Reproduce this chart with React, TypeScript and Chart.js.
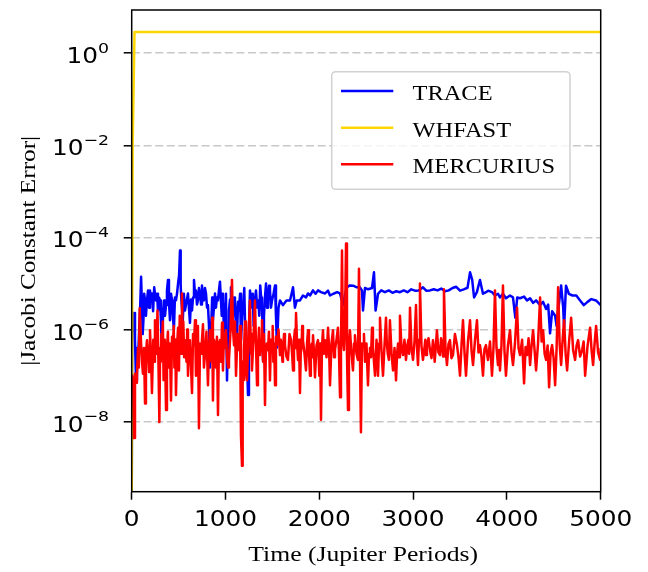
import { useEffect, useRef } from "react";
import { Chart, registerables } from "chart.js";

Chart.register(...registerables);

// ---------------- data ----------------
const traceTime = [
  0, 5, 14, 25, 35, 46, 56, 67, 80, 90, 100, 110, 117, 125, 133, 142, 152, 163, 174, 185,
  195, 205, 216, 228, 240, 250, 260, 270, 280, 291, 302, 312, 323, 334, 345, 355, 366, 376, 387, 397,
  408, 419, 430, 440, 450, 461, 472, 483, 494, 505, 515, 522, 530, 538, 545, 556, 568, 584, 600, 610,
  621, 632, 643, 654, 664, 675, 685, 696, 706, 717, 728, 739, 749, 760, 770, 781, 792, 803, 813, 824,
  834, 842, 850, 858, 866, 877, 888, 898, 909, 920, 930, 941, 950, 960, 966, 973, 984, 994, 1005, 1016,
  1027, 1037, 1048, 1058, 1069, 1080, 1091, 1101, 1112, 1123, 1134, 1144, 1155, 1165, 1178, 1190, 1200, 1210, 1225, 1240,
  1250, 1261, 1271, 1282, 1291, 1300, 1313, 1325, 1337, 1350, 1360, 1370, 1380, 1389, 1395, 1400, 1410, 1421, 1432, 1443,
  1453, 1464, 1474, 1485, 1496, 1512, 1528, 1538, 1549, 1565, 1581, 1613, 1650, 1688, 1720, 1740, 1760, 1794, 1826, 1858,
  1880, 1901, 1933, 1960, 1986, 2018, 2061, 2093, 2114, 2150, 2190, 2221, 2253, 2275, 2295, 2327, 2360, 2400, 2433, 2455,
  2466, 2487, 2520, 2562, 2583, 2600, 2626, 2660, 2700, 2740, 2780, 2820, 2860, 2900, 2940, 2980, 3020, 3060, 3105, 3140,
  3180, 3220, 3260, 3300, 3340, 3380, 3420, 3460, 3500, 3540, 3580, 3607, 3630, 3650, 3680, 3713, 3745, 3777, 3800, 3841,
  3873, 3905, 3926, 3958, 3990, 4033, 4065, 4090, 4110, 4140, 4183, 4215, 4247, 4279, 4311, 4354, 4386, 4418, 4440, 4460,
  4482, 4514, 4530, 4550, 4578, 4600, 4610, 4630, 4660, 4700, 4740, 4780, 4820, 4860, 4900, 4950, 5000,
];
const traceError = [
  1e-10, 1.6e-6, 1.7e-6, 2.3e-6, 6e-7, 7.9e-8, 4e-7, 2e-7, 1e-6, 3e-6, 1.4e-5, 3e-6, 8e-7, 1.6e-6, 6e-6, 4.3e-6, 2e-6, 4.3e-6, 7.1e-6, 3e-6,
  7.1e-6, 4e-6, 6.1e-6, 2.5e-6, 8.3e-6, 5.5e-6, 4.3e-6, 6e-6, 2.6e-6, 5e-6, 4.3e-6, 1.5e-6, 3.2e-7, 2e-6, 4.3e-6, 2e-6, 3.4e-6, 7e-6, 1.2e-5, 4e-6,
  1.6e-6, 6e-6, 4.3e-6, 1.8e-6, 1e-6, 5e-6, 4.3e-6, 6e-6, 1e-5, 1.5e-5, 5.2e-5, 9e-6, 4.3e-6, 2.5e-6, 1.6e-6, 6e-6, 2.6e-6, 4e-6, 6.1e-6, 3e-6,
  1.4e-6, 4.5e-6, 2.6e-6, 5e-6, 1.2e-5, 6e-6, 7.1e-6, 3.5e-6, 4.3e-6, 8e-6, 6.1e-6, 3.5e-6, 9.1e-6, 5e-6, 4.3e-6, 8e-6, 6.1e-6, 3e-6, 3.4e-6, 1.2e-6,
  1.5e-7, 8e-7, 1.6e-6, 5e-6, 1.6e-6, 3e-6, 6.1e-6, 3e-6, 5e-6, 4.3e-6, 7e-6, 1.1e-5, 5e-6, 2e-6, 6e-6, 4.3e-6, 9e-7, 1.6e-6, 6e-6, 7.9e-8,
  9e-7, 2.6e-6, 4.5e-6, 8.3e-6, 3e-6, 1e-6, 5e-6, 4.3e-6, 2e-6, 7.5e-7, 4e-6, 2.6e-6, 6e-6, 5.9e-7, 2e-6, 3.4e-6, 8e-6, 1e-6, 4e-7, 3.8e-8,
  1e-6, 7.1e-6, 5e-6, 3e-6, 6e-6, 1.2e-6, 4e-6, 7.1e-6, 3e-6, 4.3e-6, 2e-6, 9.1e-6, 5e-6, 3e-6, 1e-6, 2.2e-7, 2e-6, 5e-6, 1e-5, 3e-6,
  5e-6, 9e-6, 7.1e-6, 3e-6, 4.3e-6, 6e-6, 9.1e-6, 2e-6, 4.1e-7, 3e-6, 4.3e-6, 3.4e-6, 4.3e-6, 4.3e-6, 8.3e-6, 3e-6, 4.3e-6, 4.3e-6, 5.5e-6, 5e-6,
  6.1e-6, 5.5e-6, 7.1e-6, 6e-6, 7.1e-6, 6.5e-6, 6.1e-6, 7e-6, 5.5e-6, 6e-6, 6.5e-6, 6.1e-6, 3.4e-6, 6e-6, 8.3e-6, 9.1e-6, 9e-6, 8.3e-6, 8.3e-6, 7e-6,
  2.6e-6, 8e-6, 7.5e-6, 8e-6, 1.75e-5, 2.6e-6, 6e-6, 7.1e-6, 6.5e-6, 7.1e-6, 6.3e-6, 6.8e-6, 6.5e-6, 7.1e-6, 6.5e-6, 7.5e-6, 7e-6, 7.1e-6, 8.3e-6, 7e-6,
  7.1e-6, 7.5e-6, 7.1e-6, 7.8e-6, 6.8e-6, 7.1e-6, 8e-6, 8.5e-6, 7e-6, 7.5e-6, 8.1e-6, 1.75e-5, 1.2e-5, 5e-6, 6.5e-6, 1.2e-5, 6e-6, 6.5e-6, 7e-6, 6.5e-6,
  5.5e-6, 6e-6, 5e-6, 6e-6, 4.8e-6, 5.5e-6, 5e-6, 1.8e-6, 5e-6, 4.8e-6, 5.2e-6, 4.3e-6, 4.8e-6, 3.8e-6, 4.3e-6, 3.4e-6, 4e-6, 2.8e-6, 3.5e-6, 8.3e-7,
  2.5e-6, 2e-6, 1.2e-6, 3e-6, 9.1e-6, 3e-6, 1.1e-6, 9e-6, 6e-6, 5.5e-6, 5.5e-6, 4.3e-6, 3.4e-6, 4e-6, 4.6e-6, 4.3e-6, 3.4e-6,
];

const whfastTime = [0, 10, 30, 5000];
const whfastError = [1e-10, 1e-2, 2.9, 2.9];

const mercuriusTime = [
  0, 5, 14, 25, 35, 46, 56, 67, 76, 85, 100, 110, 120, 131, 142, 152, 163, 174, 185, 195,
  205, 216, 230, 240, 248, 260, 268, 275, 285, 295, 303, 310, 317, 323, 332, 340, 353, 366, 376, 386,
  395, 407, 419, 430, 440, 448, 455, 464, 472, 483, 494, 504, 512, 520, 528, 536, 543, 550, 559, 568,
  584, 592, 600, 610, 621, 632, 643, 654, 664, 675, 685, 696, 706, 717, 728, 739, 749, 760, 770, 781,
  797, 813, 824, 834, 842, 850, 858, 866, 877, 888, 898, 909, 920, 930, 941, 952, 963, 973, 984, 994,
  1005, 1016, 1027, 1037, 1053, 1069, 1080, 1091, 1101, 1112, 1128, 1144, 1155, 1165, 1176, 1183, 1190, 1197, 1208, 1218,
  1229, 1245, 1261, 1270, 1276, 1282, 1298, 1314, 1325, 1336, 1346, 1357, 1368, 1379, 1389, 1400, 1410, 1421, 1430, 1440,
  1453, 1463, 1474, 1485, 1496, 1503, 1510, 1519, 1528, 1538, 1549, 1565, 1581, 1590, 1600, 1607, 1613, 1624, 1634, 1650,
  1666, 1682, 1699, 1710, 1720, 1730, 1740, 1746, 1752, 1763, 1773, 1784, 1794, 1802, 1810, 1818, 1826, 1842, 1858, 1869,
  1880, 1890, 1901, 1910, 1920, 1927, 1933, 1944, 1954, 1970, 1986, 1993, 2000, 2009, 2018, 2028, 2039, 2050, 2061, 2077,
  2093, 2104, 2114, 2130, 2146, 2157, 2167, 2183, 2199, 2210, 2221, 2231, 2242, 2252, 2263, 2274, 2285, 2295, 2306, 2316,
  2327, 2343, 2359, 2370, 2380, 2396, 2412, 2423, 2433, 2444, 2455, 2466, 2476, 2487, 2503, 2519, 2530, 2540, 2551, 2562,
  2572, 2583, 2594, 2610, 2618, 2626, 2637, 2647, 2663, 2679, 2695, 2711, 2720, 2730, 2742, 2753, 2770, 2786, 2802, 2818,
  2830, 2840, 2850, 2860, 2876, 2892, 2908, 2924, 2938, 2950, 2958, 2967, 2983, 2999, 3015, 3031, 3042, 3052, 3063, 3073,
  3089, 3105, 3118, 3130, 3139, 3148, 3164, 3180, 3196, 3212, 3222, 3230, 3242, 3254, 3270, 3287, 3298, 3310, 3320, 3329,
  3345, 3361, 3377, 3393, 3409, 3425, 3446, 3468, 3484, 3500, 3516, 3532, 3548, 3564, 3585, 3607, 3623, 3639, 3660, 3681,
  3697, 3713, 3729, 3745, 3761, 3777, 3788, 3798, 3820, 3841, 3857, 3873, 3889, 3905, 3916, 3926, 3942, 3958, 3974, 3990,
  4011, 4033, 4049, 4065, 4086, 4108, 4124, 4140, 4162, 4183, 4199, 4215, 4231, 4247, 4263, 4279, 4295, 4311, 4332, 4354,
  4370, 4386, 4402, 4418, 4434, 4450, 4466, 4482, 4498, 4514, 4530, 4546, 4562, 4578, 4594, 4610, 4626, 4642, 4663, 4685,
  4706, 4727, 4743, 4759, 4780, 4802, 4818, 4834, 4860, 4887, 4903, 4919, 4935, 4951, 4972, 4994, 5000,
];
const mercuriusError = [
  1e-7, 1e-7, 8e-8, 4.4e-9, 1.1e-7, 7e-8, 1e-7, 4e-7, 1.5e-7, 2.9e-6, 5e-7, 2e-7, 1.1e-7, 4e-7, 2.5e-8, 3e-7, 5.9e-7, 3e-7, 1.2e-7, 9.7e-7,
  3e-7, 4.2e-8, 6e-7, 2e-7, 1.6e-6, 3e-7, 8e-7, 2.6e-6, 2e-7, 9.8e-9, 4e-7, 2e-7, 8e-7, 4.6e-7, 1.5e-6, 8e-8, 6e-7, 1.8e-8, 3.6e-7, 9e-7,
  1.5e-7, 5e-7, 2.9e-8, 7e-7, 4.6e-7, 1.2e-6, 1.5e-7, 6e-7, 3.8e-8, 4e-7, 1.1e-6, 1.3e-7, 2e-6, 8e-7, 3e-7, 6.1e-6, 4e-7, 1.5e-6, 2.5e-7, 5.9e-7,
  2e-7, 1e-6, 1e-7, 4e-7, 5.9e-7, 1.6e-7, 4.2e-8, 8e-7, 4.6e-7, 1.6e-6, 1e-7, 2.2e-7, 1.2e-6, 7.2e-9, 5e-7, 3e-7, 5.9e-7, 1.3e-6, 1.5e-7, 2.8e-7,
  9e-7, 6.2e-8, 4e-7, 9.7e-7, 2.5e-7, 2e-7, 1.8e-6, 2.9e-8, 6e-7, 4.6e-7, 1.5e-7, 7e-7, 1.4e-8, 5e-7, 5.9e-7, 2e-7, 1.4e-6, 1.3e-7, 8e-7, 4e-7,
  9.7e-7, 2.5e-7, 1.5e-7, 2.2e-7, 9e-7, 1.2e-5, 1e-6, 4.6e-7, 1.5e-6, 1e-7, 8e-7, 3.6e-7, 1.2e-6, 5e-9, 1.1e-9, 2e-7, 8e-8, 3.6e-7, 1.5e-6, 1.3e-7,
  7.9e-8, 7e-7, 4.3e-6, 3e-7, 8e-7, 1.3e-7, 6e-7, 4.3e-6, 5e-7, 6.2e-8, 3.6e-7, 1.1e-6, 2.8e-7, 6e-7, 1.6e-6, 2e-7, 8e-7, 2.3e-8, 3e-7, 5e-7,
  3.6e-7, 9e-7, 7.9e-8, 6e-7, 5.9e-7, 1.2e-6, 2e-7, 5e-7, 6.2e-8, 7e-7, 4.6e-7, 1e-6, 2.8e-7, 6e-7, 4e-7, 2e-7, 3.6e-7, 8e-7, 4.6e-7, 2.6e-7,
  2.2e-7, 8e-7, 5.9e-7, 3e-7, 1.3e-7, 6e-7, 1e-6, 4e-7, 2.3e-6, 5e-7, 2.2e-7, 6e-7, 4.2e-8, 3e-7, 4e-7, 1.2e-6, 5.9e-7, 3e-7, 1.3e-7, 5e-7,
  9.7e-7, 3e-7, 1e-7, 4e-7, 5e-7, 2.5e-7, 7.5e-7, 3e-7, 9.2e-8, 4.5e-7, 5.9e-7, 2.5e-7, 1e-7, 5e-7, 1.1e-8, 4e-7, 9.7e-7, 3e-7, 5.9e-7, 2.5e-7,
  1.1e-6, 4e-7, 6.2e-8, 5e-7, 9.7e-7, 2.5e-7, 3.6e-7, 6e-7, 1.1e-6, 3e-7, 3.4e-8, 4e-7, 5.2e-5, 6e-7, 3.6e-7, 1.5e-6, 7.4e-5, 3e-7, 1.8e-8, 5e-7,
  9.7e-7, 3e-7, 1.3e-7, 5e-7, 7.5e-7, 3e-7, 2.2e-7, 2.1e-5, 3e-7, 5.9e-9, 5e-7, 4.6e-7, 8e-7, 2e-7, 5e-7, 6.2e-8, 3e-7, 4e-7, 2.5e-7, 1.1e-6,
  4e-7, 2e-7, 1e-7, 6e-7, 2.5e-7, 1e-7, 5e-7, 1.8e-6, 3.5e-7, 1e-7, 4.5e-7, 1.8e-6, 5e-7, 3e-7, 2.2e-7, 1.6e-6, 3e-7, 1.3e-7, 4e-7, 7.9e-8,
  3.2e-7, 5e-7, 2.5e-7, 2e-6, 4e-7, 2.8e-7, 6e-7, 2.2e-7, 4.5e-7, 6e-7, 3e-7, 3e-6, 4e-7, 2.2e-7, 5.5e-7, 3.4e-6, 4e-7, 1.7e-7, 6e-7, 1e-5,
  4.5e-7, 2.2e-7, 3.5e-7, 6e-7, 2.8e-7, 4.6e-7, 6.5e-7, 3.6e-7, 2.4e-7, 5.9e-7, 3.6e-7, 2e-7, 4.2e-7, 9.7e-7, 3.2e-7, 2.8e-7, 6.5e-7, 5e-7, 2.6e-7, 7.5e-6,
  4e-7, 1.7e-7, 4.8e-7, 5.9e-7, 2.4e-7, 2.8e-7, 8e-7, 4.6e-7, 2.5e-7, 1e-7, 4.5e-7, 1.6e-6, 3.2e-7, 1e-7, 5.5e-7, 1.6e-6, 3.5e-7, 1.7e-7, 6e-7, 1.6e-6,
  3.2e-7, 4.6e-7, 2.6e-7, 1e-7, 3.8e-7, 4.6e-7, 3e-7, 2.2e-7, 5.5e-7, 1e-7, 4e-7, 7.1e-6, 4e-7, 1.7e-7, 3.6e-7, 1.3e-7, 4.5e-7, 9.1e-6, 3.5e-7, 1e-7,
  4.5e-7, 9.7e-7, 3.2e-7, 1.7e-7, 5e-7, 3e-6, 4e-7, 2.8e-7, 6e-7, 6.8e-8, 4.2e-7, 2.8e-7, 6.5e-7, 1.7e-7, 4.5e-7, 9.7e-7, 3.6e-7, 1.3e-7, 5e-7, 5e-6,
  5.5e-7, 9.7e-7, 3e-7, 2.2e-7, 4.5e-7, 5.6e-8, 3.2e-7, 4.6e-7, 2.4e-7, 6.2e-8, 4e-7, 8.3e-6, 5e-7, 1.7e-7, 6e-7, 1.6e-6, 3e-7, 1.3e-7, 5.5e-7, 1.8e-6,
  3.6e-7, 2.2e-7, 4.5e-7, 5.9e-7, 2.6e-7, 3.6e-7, 5.5e-7, 1e-7, 4.5e-7, 1.1e-6, 3.5e-7, 1.7e-7, 5e-7, 1.2e-6, 3.2e-7, 2.2e-7, 4e-7,
];

const seriesLabels = ["TRACE", "WHFAST", "MERCURIUS"];
const seriesColors = ["#0000ff", "#ffd700", "#ff0000"];

const xTickValues = [0, 1000, 2000, 3000, 4000, 5000];
const xTickLabels = ["0", "1000", "2000", "3000", "4000", "5000"];
const yTickValues = [1e-8, 1e-6, 1e-4, 1e-2, 1];
const yTickBase = "10";
const yTickExponents = ["\u22128", "\u22126", "\u22124", "\u22122", "0"];

const xTitle = "Time (Jupiter Periods)";
const yTitle = "|Jacobi Constant Error|";

// ---------------- layout / style ----------------
const W = 648;
const H = 572;
const AREA = { left: 131.7, top: 10, right: 600.7, bottom: 491.7 };
const SANS = '"DejaVu Sans", sans-serif';
const SERIF = '"Liberation Serif", "Times New Roman", serif';

function stretchedText(
  ctx: CanvasRenderingContext2D,
  text: string,
  x: number,
  y: number,
  sx: number,
  align: "left" | "center" | "right",
  rotate = 0
) {
  ctx.save();
  ctx.translate(x, y);
  if (rotate) ctx.rotate(rotate);
  ctx.scale(sx, 1);
  const w = ctx.measureText(text).width;
  const dx = align === "center" ? -w / 2 : align === "right" ? -w : 0;
  ctx.textAlign = "left";
  ctx.fillText(text, dx, 0);
  ctx.restore();
}

const decorPlugin = {
  id: "decor",
  afterDatasetsDraw(chart: any) {
    const { ctx, chartArea } = chart;
    ctx.save();
    ctx.strokeStyle = "#000";
    ctx.lineWidth = 1.5;
    ctx.strokeRect(chartArea.left, chartArea.top, chartArea.right - chartArea.left, chartArea.bottom - chartArea.top);
    ctx.restore();
  },
  afterDraw(chart: any) {
    const { ctx, chartArea } = chart;
    const xs = chart.scales.x;
    const ys = chart.scales.y;
    ctx.save();
    ctx.fillStyle = "#000";
    ctx.textBaseline = "alphabetic";

    // y tick labels: 10 with superscript exponent
    const TSX = 1.18;
    yTickValues.forEach((v, i) => {
      const py = ys.getPixelForValue(v);
      ctx.font = `21px ${SANS}`;
      const wb = ctx.measureText(yTickBase).width * TSX;
      ctx.font = `14.7px ${SANS}`;
      const we = ctx.measureText(yTickExponents[i]).width * TSX;
      const x0 = chartArea.left - 22.7 - wb - we;
      ctx.font = `21px ${SANS}`;
      stretchedText(ctx, yTickBase, x0, py + 10, TSX, "left");
      ctx.font = `14.7px ${SANS}`;
      stretchedText(ctx, yTickExponents[i], x0 + wb, py - 0.3, TSX, "left");
    });

    // x tick labels
    ctx.font = `21px ${SANS}`;
    xTickValues.forEach((v, i) => {
      const px = xs.getPixelForValue(v);
      stretchedText(ctx, xTickLabels[i], px, chartArea.bottom + 33.8, TSX, "center");
    });

    // axis titles
    ctx.font = `20.5px ${SERIF}`;
    stretchedText(ctx, xTitle, (chartArea.left + chartArea.right) / 2 - 3, 560.5, 1.25, "center");
    ctx.font = `21px ${SERIF}`;
    stretchedText(ctx, yTitle, 35, (chartArea.top + chartArea.bottom) / 2, 1.2, "center", -Math.PI / 2);

    // legend
    const bx = 331.7, by = 71.7, bw = 238.3, bh = 117.6, r = 4;
    ctx.beginPath();
    ctx.moveTo(bx + r, by);
    ctx.lineTo(bx + bw - r, by);
    ctx.arcTo(bx + bw, by, bx + bw, by + r, r);
    ctx.lineTo(bx + bw, by + bh - r);
    ctx.arcTo(bx + bw, by + bh, bx + bw - r, by + bh, r);
    ctx.lineTo(bx + r, by + bh);
    ctx.arcTo(bx, by + bh, bx, by + bh - r, r);
    ctx.lineTo(bx, by + r);
    ctx.arcTo(bx, by, bx + r, by, r);
    ctx.closePath();
    ctx.fillStyle = "rgba(255,255,255,0.8)";
    ctx.fill();
    ctx.strokeStyle = "rgba(204,204,204,0.9)";
    ctx.lineWidth = 1.5;
    ctx.stroke();

    const rows = [91, 127.7, 164.3];
    ctx.font = `22px ${SERIF}`;
    chart.data.datasets.forEach((ds: any, i: number) => {
      const ly = rows[i];
      ctx.strokeStyle = ds.borderColor;
      ctx.lineWidth = 2.4;
      ctx.beginPath();
      ctx.moveTo(341, ly);
      ctx.lineTo(393.3, ly);
      ctx.stroke();
      ctx.fillStyle = "#000";
      stretchedText(ctx, ds.label, 412.5, ly + 9, 1.11, "left");
    });
    ctx.restore();
  },
};

function toPoints(ts: number[], vs: number[]) {
  return ts.map((t, i) => ({ x: t, y: vs[i] }));
}

export default function App() {
  const ref = useRef<HTMLCanvasElement | null>(null);

  useEffect(() => {
    const canvas = ref.current;
    if (!canvas) return;
    const common = {
      pointRadius: 0,
      borderWidth: 2.5,
      tension: 0,
      fill: false,
      borderJoinStyle: "round" as const,
      borderCapStyle: "butt" as const,
    };
    const chart = new Chart(canvas, {
      type: "line",
      data: {
        datasets: [
          { ...common, label: seriesLabels[0], data: toPoints(traceTime, traceError), borderColor: seriesColors[0], order: 2 },
          { ...common, label: seriesLabels[1], data: toPoints(whfastTime, whfastError), borderColor: seriesColors[1], order: 1 },
          { ...common, label: seriesLabels[2], data: toPoints(mercuriusTime, mercuriusError), borderColor: seriesColors[2], order: 0 },
        ],
      },
      options: {
        responsive: false,
        animation: false,
        devicePixelRatio: 1,
        events: [],
        layout: {
          autoPadding: false,
          padding: { left: 0, top: AREA.top, right: W - AREA.right, bottom: 0 },
        },
        plugins: {
          legend: { display: false },
          tooltip: { enabled: false },
          title: { display: false },
        },
        scales: {
          x: {
            type: "linear",
            min: 0,
            max: 5000,
            afterBuildTicks: (s: any) => {
              s.ticks = xTickValues.map((v) => ({ value: v }));
            },
            afterFit: (s: any) => {
              s.height = H - AREA.bottom;
              s.paddingLeft = 0;
              s.paddingRight = 0;
            },
            ticks: { display: false },
            grid: {
              drawOnChartArea: false,
              drawTicks: true,
              tickLength: 8,
              tickColor: "#000",
              tickWidth: 1.5,
            },
            border: { display: false },
          },
          y: {
            type: "logarithmic",
            min: 3.02e-10,
            max: 8.71,
            bounds: "data",
            afterBuildTicks: (s: any) => {
              s.ticks = yTickValues.map((v) => ({ value: v }));
            },
            afterFit: (s: any) => {
              s.width = AREA.left;
              s.paddingTop = 0;
              s.paddingBottom = 0;
            },
            ticks: { display: false },
            grid: {
              color: "#c8c8c8",
              lineWidth: 1.6,
              drawTicks: true,
              tickLength: 8,
              tickColor: "#000",
              tickWidth: 1.5,
              tickBorderDash: [],
            },
            border: { display: false, dash: [8, 3.6] },
          },
        },
      },
      plugins: [decorPlugin],
    } as any);
    return () => chart.destroy();
  }, []);

  return (
    <div style={{ position: "absolute", left: 0, top: 0, width: W, height: H, background: "#fff" }}>
      <canvas ref={ref} width={W} height={H} style={{ display: "block", width: W + "px", height: H + "px" }} />
    </div>
  );
}
